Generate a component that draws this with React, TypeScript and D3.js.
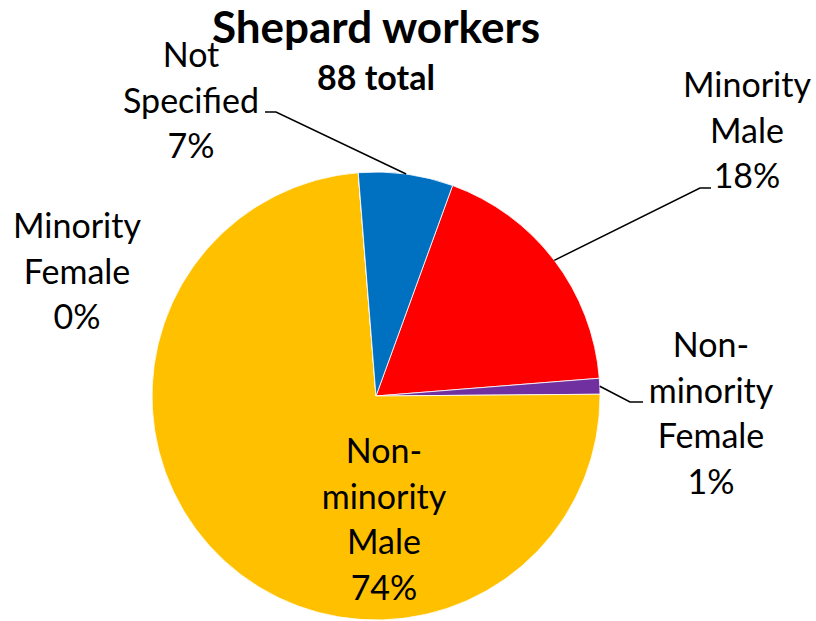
import React from "react";
import * as d3 from "d3";
import { useEffect, useRef } from "react";

// slice order as in the sheet (clockwise from the first slice angle)
const categories = ["Minority Male", "Non-minority Female", "Non-minority Male", "Minority Female", "Not Specified"];
const counts = [16, 1, 65, 0, 6];
const colors = ["#FF0000", "#7030A0", "#FFC000", "#ED7D31", "#0070C0"];
// label text lines (the percent is added from the data)
const labelLines = [
    ["Minority", "Male"],
    ["Non-", "minority", "Female"],
    ["Non-", "minority", "Male"],
    ["Minority", "Female"],
    ["Not", "Specified"],
];

const title = "Shepard workers";
const subtitle = "88 total";

// hand placed labels: centre x, first baseline, leader elbow (null = no leader)
const labelLayout = [
    { x: 747, y: 97, elbow: [700, 188], tail: 11 },
    { x: 711, y: 357, elbow: [630, 402], tail: 13 },
    { x: 384, y: 463, elbow: null, tail: 0 },
    { x: 77, y: 238, elbow: null, tail: 0 },
    { x: 191, y: 67, elbow: [276, 112], tail: -11 },
];

const App = () => {
    const ref = useRef(null);
    const width = 816;
    const height = 621;

    useEffect(() => {
        const svg = d3.select(ref.current);
        svg.selectAll("*").remove();

        const cx = 376, cy = 396, r = 224;
        const font = "Lato, 'Open Sans', sans-serif";
        const total = d3.sum(counts);

        const pie = d3.pie().sort(null).value((d) => d)
            .startAngle((20 * Math.PI) / 180)
            .endAngle((20 * Math.PI) / 180 + 2 * Math.PI);
        const arcs = pie(counts);
        const arc = d3.arc().innerRadius(0).outerRadius(r);
        const edge = d3.arc().innerRadius(r).outerRadius(r);

        const g = svg.append("g").attr("transform", `translate(${cx},${cy})`);
        g.selectAll("path")
            .data(arcs)
            .join("path")
            .attr("d", arc)
            .attr("fill", (d, i) => colors[i])
            .attr("stroke", "#fff")
            .attr("stroke-width", 0.8);

        // leader lines
        arcs.forEach((a, i) => {
            const lay = labelLayout[i];
            if (!lay.elbow) return;
            const [px, py] = edge.centroid(a);
            const [ex, ey] = lay.elbow;
            svg.append("polyline")
                .attr("points", `${cx + px},${cy + py} ${ex},${ey} ${ex + lay.tail},${ey}`)
                .attr("fill", "none")
                .attr("stroke", "#000")
                .attr("stroke-width", 1.5);
        });

        // labels
        arcs.forEach((a, i) => {
            const lay = labelLayout[i];
            const pct = Math.round((counts[i] / total) * 100) + "%";
            const lines = [...labelLines[i], pct];
            const t = svg.append("text")
                .attr("text-anchor", "middle")
                .style("font-family", font)
                .style("font-size", "34px")
                .style("fill", "#000");
            lines.forEach((s, j) => {
                t.append("tspan")
                    .attr("x", lay.x)
                    .attr("y", lay.y + j * 45.5)
                    .text(s);
            });
        });

        // titles
        svg.append("text")
            .attr("x", 376)
            .attr("y", 43)
            .attr("text-anchor", "middle")
            .style("font-family", font)
            .style("font-weight", "bold")
            .style("font-size", "44px")
            .text(title);
        svg.append("text")
            .attr("x", 376)
            .attr("y", 90)
            .attr("text-anchor", "middle")
            .style("font-family", font)
            .style("font-weight", "bold")
            .style("font-size", "34px")
            .text(subtitle);
    }, []);

    return (
        <svg ref={ref} width={width} height={height}
            style={{ position: "absolute", left: 0, top: 0, background: "#fff" }}></svg>
    );
};

export default App;
